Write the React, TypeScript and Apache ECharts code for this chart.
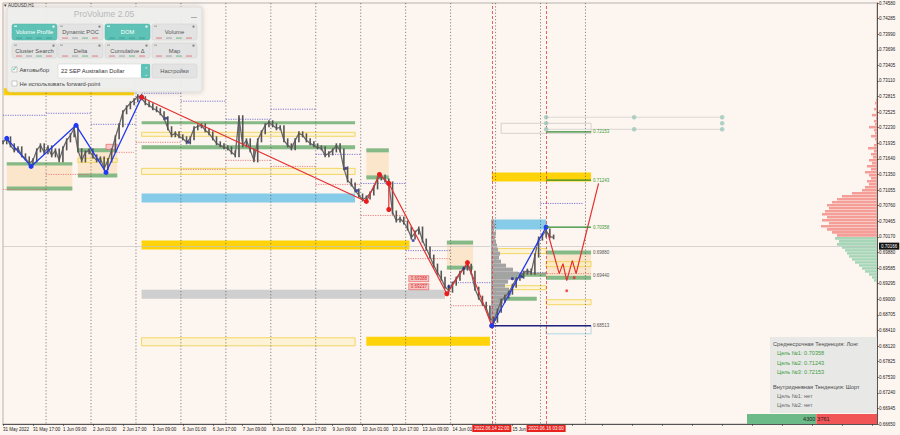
import React, { useEffect, useRef } from "react";
import * as echarts from "echarts";

const FONT = "'Liberation Sans', Arial, sans-serif";

// ---------- axis labels ----------
const xLabels = ["31 May 2022", "31 May 17:00", "1 Jun 09:00", "2 Jun 01:00", "2 Jun 17:00", "3 Jun 09:00", "6 Jun 01:00", "6 Jun 17:00", "7 Jun 09:00", "8 Jun 01:00", "8 Jun 17:00", "9 Jun 09:00", "10 Jun 01:00", "10 Jun 17:00", "13 Jun 09:00", "14 Jun 01", "", "15 Jun", ""];
const yLabels = ["0.66650", "0.66945", "0.67240", "0.67530", "0.67825", "0.68120", "0.68410", "0.68705", "0.69000", "0.69295", "0.69585", "0.69880", "0.70170", "0.70465", "0.70760", "0.71055", "0.71350", "0.71640", "0.71935", "0.72230", "0.72525", "0.72815", "0.73110", "0.73405", "0.73696", "0.73990", "0.74285", "0.74580"];
const priceMin = 0.6665;
const priceMax = 0.7458;
const currentPrice = 0.70166;

// ---------- price (2-hour closes, bar index = hours) ----------
const closes = [
  0.71956, 0.72031, 0.71899, 0.71804, 0.71842, 0.71710, 0.71653, 0.71559, 0.71616, 0.71804,
  0.71899, 0.71767, 0.71861, 0.71710, 0.71804, 0.71616, 0.71842, 0.71993, 0.72088, 0.72220,
  0.71804, 0.71616, 0.71767, 0.71804, 0.71691, 0.71616, 0.71653, 0.71465, 0.71616, 0.71804,
  0.72050, 0.72276, 0.72522, 0.72616, 0.72692, 0.72749, 0.72824, 0.72786, 0.72692, 0.72654,
  0.72597, 0.72560, 0.72503, 0.72409, 0.72220, 0.72088, 0.72125, 0.72069, 0.72031, 0.71956,
  0.72031, 0.72220, 0.72258, 0.72276, 0.72182, 0.72125, 0.72031, 0.71937, 0.71899, 0.71861,
  0.71842, 0.71767, 0.71710, 0.72428, 0.71899, 0.71993, 0.71804, 0.71616, 0.71993, 0.72144,
  0.72276, 0.72333, 0.72276, 0.72220, 0.72239, 0.71993, 0.71899, 0.71842, 0.71993, 0.72125,
  0.72088, 0.71993, 0.71937, 0.71899, 0.71861, 0.71842, 0.71710, 0.71748, 0.71804, 0.71899,
  0.71804, 0.71465, 0.71238, 0.71163, 0.71049, 0.70955, 0.70879, 0.70917, 0.70993, 0.71106,
  0.71276, 0.71314, 0.71238, 0.71181, 0.70634, 0.70483, 0.70520, 0.70445, 0.70332, 0.70162,
  0.70256, 0.70332, 0.70105, 0.69954, 0.69803, 0.69633, 0.69501, 0.69388, 0.69237, 0.69161,
  0.69293, 0.69388, 0.69501, 0.69577, 0.69633, 0.69501, 0.69199, 0.69029, 0.68916, 0.68840,
  0.68632, 0.68595, 0.68783, 0.68972, 0.69048, 0.69123, 0.69255, 0.69388, 0.69425, 0.69501,
  0.69539, 0.69501, 0.69822, 0.70143, 0.70200, 0.70294, 0.70181, 0.70166,
];

// ---------- zigzags ----------
const blueZigzag = [[2, 0.72031], [15, 0.71502], [39, 0.72276], [55, 0.71389], [74, 0.72805]];
const redZigzag = [[74, 0.72805], [194, 0.70842], [201, 0.71351], [206, 0.71181], [237, 0.69104], [248, 0.6969], [261, 0.685]];
const redStep = [[206, 0.71181], [206, 0.7069]];
const blueZigzag2 = [[261, 0.685], [290, 0.70358]];
const projection = [[291, 0.70237], [297, 0.69482], [299, 0.69671], [301, 0.6935], [304, 0.69728], [306, 0.69482], [318, 0.71181]];

// ---------- zones [fromHour, toHour, top, bottom] ----------
const peachZones = [[2, 37, 0.71578, 0.71049], [40, 61, 0.71842, 0.71314], [194, 206, 0.71842, 0.71295], [237, 251, 0.7003, 0.69633], [290, 314, 0.69841, 0.69444]];
const greenZones = [
  [2, 37, 0.71578, 0.71521], [2, 37, 0.71125, 0.71049], [40, 61, 0.71842, 0.71767], [40, 61, 0.7137, 0.71295],
  [74, 188, 0.72352, 0.72295], [74, 188, 0.71899, 0.71823], [194, 206, 0.71842, 0.71767], [194, 206, 0.71333, 0.71257],
  [237, 251, 0.70105, 0.7003], [237, 251, 0.69633, 0.69558], [261, 290, 0.69501, 0.69425], [264, 285, 0.69048, 0.68972],
  [290, 314, 0.69916, 0.69841], [290, 314, 0.69444, 0.69369],
];
const yellowBoxes = [
  [40, 61, 0.71653, 0.71578], [74, 188, 0.72144, 0.72069], [74, 188, 0.71465, 0.71351], [74, 188, 0.68274, 0.68123],
  [261, 290, 0.69954, 0.6986], [261, 290, 0.69255, 0.6918], [290, 314, 0.69709, 0.69614], [290, 314, 0.68991, 0.68897],
];
const goldBars = [[0.5, 70, 0.72975, 0.72843], [74, 217, 0.70105, 0.69935], [194, 260, 0.68293, 0.68123], [261, 314, 0.71389, 0.71219]];
const blueBars = [[74, 188, 0.70993, 0.70823], [261, 290, 0.70502, 0.70313]];
const grayBars = [[74, 236, 0.6918, 0.6901]];
const grayBoxes = [[266, 314, 0.72314, 0.72125]];
const lightBlueBoxes = [[290, 314, 0.685, 0.68349]];
const redBoxes = [[55, 61, 0.71918, 0.71823]];

// ---------- level segments [fromHour, toHour, price] ----------
const blueDotted = [[0, 23, 0.72465], [23, 47, 0.72503], [47, 71, 0.72295], [74, 95, 0.72881], [95, 119, 0.7273], [119, 143, 0.7239], [143, 167, 0.72579], [167, 191, 0.71729], [191, 215, 0.71181], [215, 239, 0.69916], [239, 261, 0.69312], [261, 290, 0.69501], [287, 310, 0.70804]];
const redDotted = [[0, 23, 0.71068], [23, 47, 0.71351], [58, 70, 0.71767], [71, 95, 0.71956], [95, 119, 0.71446], [119, 143, 0.71616], [143, 167, 0.71502], [167, 191, 0.71163], [191, 215, 0.70578], [215, 239, 0.69765], [239, 261, 0.68878], [261, 314, 0.69482]];
const grayLevels = [[290, 384, 0.72428], [290, 384, 0.72201]];
const navyLevels = [[261, 314, 0.685]];
const targets = [0.70358, 0.71243, 0.72153];
const sideLabels = [0.6988, 0.6944, 0.68513];
const priceTags = [[222, 0.69388], [222, 0.69237]];
const separators = [23, 47, 71, 95, 119, 143, 167, 191, 215, 239, 263, 287, 311];
const timeMarks: [number, string][] = [[261, "2022.06.14 22:00"], [290, "2022.06.16 03:00"]];
const tealDots = [[290, 0.72428], [290, 0.72314], [290, 0.72201], [337, 0.72428], [337, 0.72201], [384, 0.72428], [384, 0.72314], [384, 0.72201]];
const fractals = [[87, 0.72409], [99, 0.71956], [183, 0.71465], [189, 0.71049], [219, 0.70105], [238, 0.69237], [246, 0.69577], [272, 0.69388], [277, 0.69425]];
const redMarks = [[301, 0.69161], [305, 0.69407]];

// ---------- volume profiles ----------
const grayProfileBase = 0.68576;
const grayProfileStep = 0.000755;
const grayProfileVolumes = [4, 6, 7, 9, 10, 12, 16, 20, 18, 14, 17, 24, 27, 22, 15, 10, 8, 9, 7, 6, 5, 4, 5, 3, 4, 3];
const rightProfileBase = 0.6935;
const rightProfileStep = 0.000566;
const rightProfileVolumes = [
  3, 5, 8, 12, 15, 18, 22, 25, 28, 30, 32, 35, 40, 38, 42,
  40, 45, 50, 56, 48, 55, 50, 55, 52, 48, 50, 45, 40, 35, 25, 15, 12, 8, 10, 6, 8, 12, 6, 10, 5, 8, 4, 6, 3, 9,
  3, 1, 2, 6, 2, 3, 8, 2, 3, 1, 5, 1, 3, 1, 2, 1,
];
const buyVolume = 4300;
const sellVolume = 3761;

// ---------- panel texts ----------
const panelRow1 = ["Volume Profile", "Dynamic POC", "DOM", "Volume"];
const panelRow2 = ["Cluster Search", "Delta", "Cumulative Δ", "Map"];
const activeButtons = ["Volume Profile", "DOM"];
const infoLines: [string, string][] = [
  ["Среднесрочная Тенденция: Лонг", "head"],
  ["Цель №1: 0.70358", "green"],
  ["Цель №2: 0.71243", "green"],
  ["Цель №3: 0.72153", "green"],
  ["Внутридневная Тенденция: Шорт", "head"],
  ["Цель №1: нет", "gray"],
  ["Цель №2: нет", "gray"],
];

function rectSeries(name: string, data: number[][], style: any, z = 1) {
  return {
    type: "custom", name, xAxisIndex: 0, yAxisIndex: 0, z, silent: true, clip: false,
    data, encode: { x: [0, 1], y: [2, 3] },
    renderItem: (_p: any, api: any) => {
      const a = api.coord([api.value(0), api.value(2)]);
      const b = api.coord([api.value(1), api.value(3)]);
      return { type: "rect", shape: { x: a[0], y: a[1], width: b[0] - a[0], height: Math.max(b[1] - a[1], 1) }, style: { ...style } };
    },
  };
}

function segSeries(name: string, data: number[][], style: any, z = 2) {
  return {
    type: "custom", name, xAxisIndex: 0, yAxisIndex: 0, z, silent: true, clip: false,
    data, encode: { x: [0, 1], y: 2 },
    renderItem: (_p: any, api: any) => {
      const a = api.coord([api.value(0), api.value(2)]);
      const b = api.coord([api.value(1), api.value(2)]);
      return { type: "line", shape: { x1: a[0], y1: a[1], x2: b[0], y2: b[1] }, style: { ...style } };
    },
  };
}

function buildPanel() {
  const els: any[] = [];
  const Z = 100;
  els.push({ type: "rect", z: Z, shape: { x: 7, y: 7, width: 195, height: 85, r: 3 }, style: { fill: "rgba(238,238,238,0.95)", stroke: "#d4d4d4", lineWidth: 0.6, shadowBlur: 5, shadowColor: "rgba(0,0,0,0.2)" } });
  els.push({ type: "text", z: Z + 1, x: 104, y: 14, style: { text: "ProVolume 2.05", fill: "#b8b8b8", fontSize: 8.5, fontFamily: FONT, align: "center", verticalAlign: "middle" } });
  els.push({ type: "rect", z: Z + 1, shape: { x: 191, y: 17, width: 6, height: 0.8 }, style: { fill: "#999" } });
  const xs = [12, 58, 105, 152];
  const rows: [string[], number, number][] = [[panelRow1, 24, 16], [panelRow2, 43, 15]];
  rows.forEach(([labels, y, h]) => {
    labels.forEach((label, i) => {
      const x = xs[i];
      const on = activeButtons.includes(label);
      els.push({ type: "rect", z: Z + 1, shape: { x, y, width: 45, height: h, r: 2 }, style: { fill: on ? "#5ec2b6" : "#e3e3e3", stroke: on ? "#55b3a8" : "#cfcfcf", lineWidth: 0.5 } });
      els.push({ type: "text", z: Z + 2, x: x + 22.5, y: y + 7.5, style: { text: label, fill: on ? "#ffffff" : "#555555", fontSize: 5.8, fontFamily: FONT, align: "center", verticalAlign: "middle" } });
      els.push({ type: "circle", z: Z + 2, shape: { cx: x + 41.5, cy: y + 2.6, r: 1.2 }, style: { fill: on ? "#e9f7f5" : "#8a8a8a" } });
      els.push({ type: "rect", z: Z + 2, shape: { x: x + 2, y: y + 1.5, width: 3, height: 1.4 }, style: { fill: on ? "#d7f0ec" : "#b0b0b0" } });
      for (let k = 0; k < 4; k++) {
        const c = on ? "#3f9b90" : k % 3 === 0 ? "#e07070" : k % 3 === 1 ? "#9a9a9a" : "#66b07a";
        els.push({ type: "rect", z: Z + 2, shape: { x: x + 4 + k * 10, y: y + h - 2.4, width: 6, height: 0.9 }, style: { fill: c } });
      }
    });
  });
  // dropdown
  els.push({ type: "rect", z: Z + 1, shape: { x: 58, y: 64, width: 92, height: 14, r: 1 }, style: { fill: "#ffffff", stroke: "#cfcfcf", lineWidth: 0.5 } });
  els.push({ type: "rect", z: Z + 2, shape: { x: 141, y: 64, width: 9, height: 14, r: 1 }, style: { fill: "#5ec2b6" } });
  els.push({ type: "text", z: Z + 3, x: 145.5, y: 68.5, style: { text: "⌃", fill: "#fff", fontSize: 5, fontFamily: FONT, align: "center", verticalAlign: "middle" } });
  els.push({ type: "text", z: Z + 3, x: 145.5, y: 73.5, style: { text: "⌄", fill: "#fff", fontSize: 5, fontFamily: FONT, align: "center", verticalAlign: "middle" } });
  els.push({ type: "text", z: Z + 2, x: 61, y: 71, style: { text: "22 SEP Australian Dollar", fill: "#333", fontSize: 5.8, fontFamily: FONT, align: "left", verticalAlign: "middle" } });
  els.push({ type: "rect", z: Z + 1, shape: { x: 152, y: 64, width: 45, height: 14, r: 2 }, style: { fill: "#e3e3e3", stroke: "#cfcfcf", lineWidth: 0.5 } });
  els.push({ type: "text", z: Z + 2, x: 174.5, y: 71, style: { text: "Настройки", fill: "#555", fontSize: 5.8, fontFamily: FONT, align: "center", verticalAlign: "middle" } });
  // checkboxes
  els.push({ type: "rect", z: Z + 1, shape: { x: 12, y: 67, width: 5, height: 5 }, style: { fill: "#fff", stroke: "#9a9a9a", lineWidth: 0.5 } });
  els.push({ type: "text", z: Z + 2, x: 14.8, y: 68.6, style: { text: "✓", fill: "#3fb3a5", fontSize: 7, fontFamily: "DejaVu Sans", align: "center", verticalAlign: "middle" } });
  els.push({ type: "text", z: Z + 2, x: 19.5, y: 70, style: { text: "Автовыбор", fill: "#444", fontSize: 5.8, fontFamily: FONT, align: "left", verticalAlign: "middle" } });
  els.push({ type: "rect", z: Z + 1, shape: { x: 12, y: 81, width: 5, height: 5 }, style: { fill: "#fff", stroke: "#9a9a9a", lineWidth: 0.5 } });
  els.push({ type: "text", z: Z + 2, x: 19.5, y: 84, style: { text: "Не использовать forward-point", fill: "#444", fontSize: 5.8, fontFamily: FONT, align: "left", verticalAlign: "middle" } });
  // symbol title
  els.push({ type: "text", z: Z, x: 4, y: 5, style: { text: "▾ AUDUSD,H1", fill: "#333", fontSize: 4.5, fontFamily: FONT, align: "left", verticalAlign: "middle" } });
  // info panel
  els.push({ type: "rect", z: Z, shape: { x: 770, y: 337, width: 107, height: 76 }, style: { fill: "rgba(230,230,230,0.92)" } });
  const ys = [344, 353, 363, 372, 387, 396, 405];
  infoLines.forEach(([t, kind], i) => {
    const fill = kind === "head" ? "#4a4a4a" : kind === "green" ? "#3f9c3f" : "#6a6a6a";
    els.push({ type: "text", z: Z + 1, x: kind === "head" ? 773 : 777, y: ys[i], style: { text: t, fill, fontSize: 5.6, fontFamily: FONT, align: "left", verticalAlign: "middle" } });
  });
  return els;
}

export default function App() {
  const ref = useRef<HTMLDivElement>(null);
  useEffect(() => {
    const chart = echarts.init(ref.current!, null, { renderer: "svg" });
    const bars = closes.map((c, i) => [i * 2, i === 0 ? c : closes[i - 1], c]);
    const closeLine = closes.map((c, i) => [i * 2, c]);
    const grayProfile = grayProfileVolumes.map((v, i) => [v, grayProfileBase + i * grayProfileStep]);
    const rightProfile = rightProfileVolumes.map((v, i) => [v, rightProfileBase + i * rightProfileStep]);

    const option: any = {
      animation: false,
      backgroundColor: "#fdf5ef",
      textStyle: { fontFamily: FONT },
      grid: [
        { left: 2, right: 23, top: 3, bottom: 11, show: true, borderColor: "#9a9a9a", borderWidth: 0.7 },
        { left: 491, width: 100, top: 3, bottom: 11 },
        { left: 745, right: 23, top: 3, bottom: 11 },
        { left: 747, right: 23, top: 414, height: 10 },
      ],
      xAxis: [
        {
          type: "value", gridIndex: 0, min: 0, max: 466.67, interval: 16,
          axisLine: { lineStyle: { color: "#333", width: 0.8 } },
          axisTick: { show: true, length: 2, lineStyle: { color: "#333", width: 0.6 } },
          splitLine: { show: false },
          axisLabel: { fontSize: 4.5, color: "#222", align: "left", margin: 3, showMaxLabel: false, fontFamily: FONT, formatter: (v: number) => xLabels[Math.round(v / 16)] ?? "" },
        },
        { type: "value", gridIndex: 1, min: 0, max: 100, show: false },
        { type: "value", gridIndex: 2, min: 0, max: 132, inverse: true, show: false },
        { type: "value", gridIndex: 3, min: 0, max: buyVolume + sellVolume, show: false },
      ],
      yAxis: [
        { type: "value", gridIndex: 0, min: priceMin, max: priceMax, show: false },
        {
          type: "value", gridIndex: 0, min: 0, max: 27, interval: 1, position: "right",
          axisLine: { show: true, lineStyle: { color: "#333", width: 0.8 } },
          axisTick: { show: true, length: 2, lineStyle: { color: "#333", width: 0.6 } },
          splitLine: { show: false },
          axisLabel: { fontSize: 4.5, color: "#222", margin: 2, fontFamily: FONT, formatter: (v: number) => yLabels[Math.round(v)] ?? "" },
        },
        { type: "value", gridIndex: 1, min: priceMin, max: priceMax, show: false },
        { type: "value", gridIndex: 2, min: priceMin, max: priceMax, show: false },
        { type: "category", gridIndex: 3, data: ["vol"], show: false },
      ],
      graphic: { elements: buildPanel() },
      series: [
        rectSeries("peach", peachZones, { fill: "#fbe6cc" }, 1),
        rectSeries("gold", goldBars, { fill: "#ffd30a" }, 1),
        rectSeries("blue", blueBars, { fill: "#86cbe8" }, 1),
        rectSeries("gray", grayBars, { fill: "#cfcfcf" }, 1),
        rectSeries("green", greenZones, { fill: "#85b985" }, 2),
        rectSeries("yellowBox", yellowBoxes, { fill: "rgba(255,240,170,0.35)", stroke: "#f1d457", lineWidth: 0.9 }, 2),
        rectSeries("grayBox", grayBoxes, { fill: "none", stroke: "#c9c9c9", lineWidth: 0.8 }, 2),
        rectSeries("lightBlueBox", lightBlueBoxes, { fill: "none", stroke: "#9fd0e4", lineWidth: 0.8 }, 2),
        rectSeries("redBox", redBoxes, { fill: "#f7c8c8", stroke: "#e05555", lineWidth: 0.6 }, 2),
        {
          type: "custom", name: "separators", xAxisIndex: 0, yAxisIndex: 0, z: 2, silent: true,
          data: separators.map((s) => [s]), encode: { x: 0 },
          renderItem: (_p: any, api: any) => {
            const a = api.coord([api.value(0), priceMax]);
            const b = api.coord([api.value(0), priceMin]);
            return { type: "line", shape: { x1: a[0], y1: a[1], x2: b[0], y2: b[1] }, style: { stroke: "#555", lineWidth: 0.7, lineDash: [1.2, 2] } };
          },
        },
        segSeries("blueDotted", blueDotted, { stroke: "#5a5ad0", lineWidth: 0.8, lineDash: [1.2, 1.2] }),
        segSeries("redDotted", redDotted, { stroke: "#e06a6a", lineWidth: 0.8, lineDash: [1.2, 1.2] }),
        segSeries("grayLevels", grayLevels, { stroke: "#d0d0d0", lineWidth: 0.8 }),
        segSeries("navy", navyLevels, { stroke: "#202080", lineWidth: 1.6 }, 6),
        {
          type: "custom", name: "grayProfile", xAxisIndex: 1, yAxisIndex: 2, z: 3, silent: true,
          data: grayProfile, encode: { x: 0, y: 1 },
          renderItem: (_p: any, api: any) => {
            const a = api.coord([0, api.value(1)]);
            const b = api.coord([api.value(0), api.value(1)]);
            const h = api.size([0, grayProfileStep])[1];
            return { type: "rect", shape: { x: a[0], y: a[1] - h / 2, width: b[0] - a[0], height: h }, style: { fill: "#a3a3a3" } };
          },
        },
        {
          type: "custom", name: "rightProfile", xAxisIndex: 2, yAxisIndex: 3, z: 1, silent: true,
          data: rightProfile, encode: { x: 0, y: 1 },
          renderItem: (_p: any, api: any) => {
            const p = api.value(1);
            const a = api.coord([0, p]);
            const b = api.coord([api.value(0), p]);
            const h = api.size([0, rightProfileStep])[1];
            return { type: "rect", shape: { x: b[0], y: a[1] - h / 2, width: a[0] - b[0], height: h * 0.85 }, style: { fill: p < currentPrice ? "#a6d6b7" : "#f59e98" } };
          },
        },
        {
          type: "line", name: "closeLine", data: closeLine, z: 4, showSymbol: false, silent: true,
          lineStyle: { color: "#6a6a6a", width: 1.3 },
        },
        {
          type: "custom", name: "price", xAxisIndex: 0, yAxisIndex: 0, z: 5, silent: true,
          data: bars, encode: { x: 0, y: [1, 2] },
          renderItem: (_p: any, api: any) => {
            const x = api.value(0);
            const o = api.value(1);
            const c = api.value(2);
            const t = api.coord([x, Math.max(o, c)]);
            const b = api.coord([x, Math.min(o, c)]);
            return { type: "rect", shape: { x: t[0] - 0.8, y: t[1] - 2, width: 1.6, height: Math.max(b[1] - t[1], 0) + 4 }, style: { fill: "#555555" } };
          },
        },
        {
          type: "line", name: "blueZigzag", data: blueZigzag, z: 6, symbol: "circle", symbolSize: 5,
          itemStyle: { color: "#1f3af0" }, lineStyle: { color: "#1f3af0", width: 1.3 },
          markLine: {
            silent: true, symbol: ["none", "none"],
            data: [
              ...timeMarks.map(([x, t]) => ({
                xAxis: x,
                lineStyle: { color: "#e23b3b", type: [3, 2], width: 0.8 },
                label: { show: true, position: "start", formatter: t, backgroundColor: "#e8231f", color: "#fff", fontSize: 4.5, padding: [1, 2], distance: 1, fontFamily: FONT },
              })),
              {
                yAxis: currentPrice,
                lineStyle: { color: "#c4c4c4", type: "solid", width: 0.7 },
                label: { show: true, position: "end", formatter: currentPrice.toFixed(5), backgroundColor: "#111", color: "#fff", fontSize: 4.5, padding: [1, 2], distance: 2, fontFamily: FONT },
              },
            ],
          },
        },
        { type: "line", name: "redZigzag", data: redZigzag, z: 6, symbol: "circle", symbolSize: 5, itemStyle: { color: "#ea1c1c" }, lineStyle: { color: "#e53030", width: 1.2 } },
        { type: "line", name: "redStep", data: redStep, z: 6, symbol: "circle", symbolSize: 5, itemStyle: { color: "#ea1c1c" }, lineStyle: { color: "#e53030", width: 1.2 } },
        { type: "line", name: "blueZigzag2", data: blueZigzag2, z: 6, symbol: "circle", symbolSize: 5, itemStyle: { color: "#1f3af0" }, lineStyle: { color: "#1f3af0", width: 1.3 } },
        { type: "line", name: "projection", data: projection, z: 6, showSymbol: false, lineStyle: { color: "#e53030", width: 1.2 } },
        {
          type: "custom", name: "targets", xAxisIndex: 0, yAxisIndex: 0, z: 7, silent: true, clip: false,
          data: targets.map((p) => [290, 314, p]), encode: { x: [0, 1], y: 2 },
          renderItem: (_p: any, api: any) => {
            const a = api.coord([api.value(0), api.value(2)]);
            const b = api.coord([api.value(1), api.value(2)]);
            return {
              type: "group",
              children: [
                { type: "line", shape: { x1: a[0], y1: a[1], x2: b[0], y2: b[1] }, style: { stroke: "#2e8a2e", lineWidth: 1.2 } },
                { type: "text", x: b[0] + 2, y: b[1], style: { text: api.value(2).toFixed(5), fill: "#3a9a3a", fontSize: 4.5, fontFamily: FONT, verticalAlign: "middle", align: "left" } },
              ],
            };
          },
        },
        {
          type: "custom", name: "sideLabels", xAxisIndex: 0, yAxisIndex: 0, z: 7, silent: true, clip: false,
          data: sideLabels.map((p) => [314, p]), encode: { x: 0, y: 1 },
          renderItem: (_p: any, api: any) => {
            const a = api.coord([api.value(0), api.value(1)]);
            return { type: "text", x: a[0] + 2, y: a[1], style: { text: api.value(1).toFixed(5), fill: "#555", fontSize: 4.5, fontFamily: FONT, verticalAlign: "middle", align: "left" } };
          },
        },
        {
          type: "custom", name: "priceTags", xAxisIndex: 0, yAxisIndex: 0, z: 8, silent: true,
          data: priceTags, encode: { x: 0, y: 1 },
          renderItem: (_p: any, api: any) => {
            const a = api.coord([api.value(0), api.value(1)]);
            return {
              type: "group",
              children: [
                { type: "rect", shape: { x: a[0] - 10, y: a[1] - 3, width: 20, height: 6 }, style: { fill: "#f6c9c9", stroke: "#e25050", lineWidth: 0.6 } },
                { type: "text", x: a[0], y: a[1], style: { text: api.value(1).toFixed(5), fill: "#d82020", fontSize: 4.5, fontFamily: FONT, verticalAlign: "middle", align: "center" } },
              ],
            };
          },
        },
        { type: "scatter", name: "tealDots", data: tealDots, z: 7, symbolSize: 4.5, itemStyle: { color: "#9cc8bd" }, silent: true },
        { type: "scatter", name: "fractals", data: fractals, z: 7, symbolSize: 3, itemStyle: { color: "#1b2b9b" }, silent: true },
        { type: "scatter", name: "redMarks", data: redMarks, z: 7, symbolSize: 3, itemStyle: { color: "#e23030" }, silent: true },
        {
          type: "bar", name: "buy", xAxisIndex: 3, yAxisIndex: 4, stack: "v", data: [buyVolume], barWidth: 10, z: 9,
          itemStyle: { color: "#6cba88" },
          label: { show: true, position: "insideRight", color: "#222", fontSize: 5.5, fontFamily: FONT, distance: 1 },
        },
        {
          type: "bar", name: "sell", xAxisIndex: 3, yAxisIndex: 4, stack: "v", data: [sellVolume], barWidth: 10, z: 9,
          itemStyle: { color: "#f25555" },
          label: { show: true, position: "insideLeft", color: "#222", fontSize: 5.5, fontFamily: FONT, distance: 1 },
        },
      ],
    };
    chart.setOption(option);
    return () => chart.dispose();
  }, []);
  return <div ref={ref} style={{ position: "fixed", left: 0, top: 0, width: 900, height: 435, background: "#fdf5ef" }} />;
}
